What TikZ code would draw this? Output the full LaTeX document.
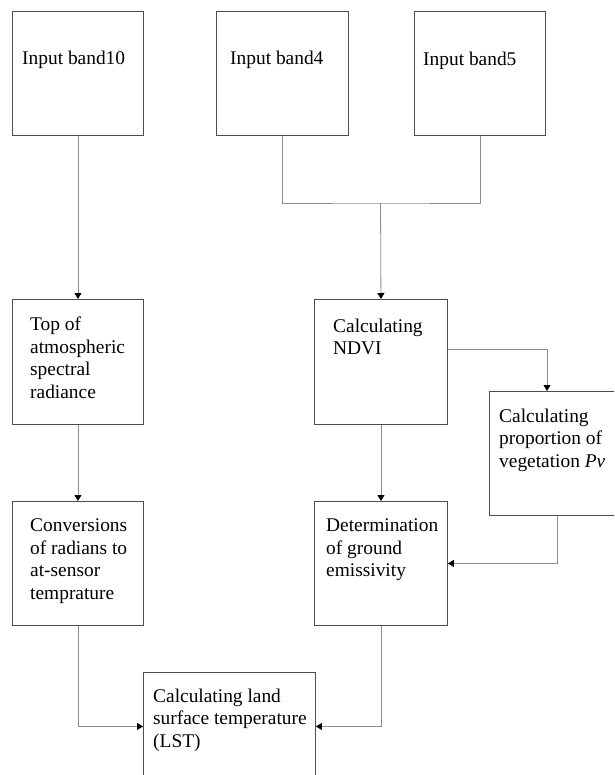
\documentclass[tikz,border=0pt]{standalone}
\usepackage{fontspec}
\setmainfont{Liberation Serif}
\usetikzlibrary{arrows.meta,calc}
\begin{document}
\begin{tikzpicture}[x=1pt,y=-1pt,
  box/.style={draw=black!70,line width=0.9pt,rectangle,anchor=north west,inner sep=0pt},
  txt/.style={anchor=north west,inner sep=0pt,align=left,font=\fontsize{19.4}{22.7}\selectfont},
  conn/.style={draw=black!45,line width=0.8pt},
  arr/.style={conn,-{Triangle[length=6pt,width=7pt,color=black]}}]
\useasboundingbox (0,0) rectangle (614,775);
\clip (0,0) rectangle (614,775);
\fill[white] (0,0) rectangle (614,775);
% boxes
\node[box,minimum width=131pt,minimum height=124pt] (b10) at (12,11) {};
\node[box,minimum width=132pt,minimum height=124pt] (b4) at (216,11) {};
\node[box,minimum width=131pt,minimum height=124pt] (b5) at (414,11) {};
\node[box,minimum width=131pt,minimum height=125pt] (toa) at (12,299) {};
\node[box,minimum width=133pt,minimum height=125pt] (ndvi) at (314,299) {};
\node[box,minimum width=136pt,minimum height=124pt] (pv) at (489,391) {};
\node[box,minimum width=131pt,minimum height=124pt] (conv) at (12,501) {};
\node[box,minimum width=133pt,minimum height=124pt] (det) at (314,501) {};
\node[box,minimum width=172pt,minimum height=108pt] (lst) at (143,672) {};
% texts
\node[txt] (t10) at (22,50.5) {Input band10};
\node[txt] (t4) at (230,50.5) {Input band4};
\node[txt] (t5) at (423,51.5) {Input band5};
\node[txt] (ttoa) at (30,316.5) {Top of\\atmospheric\\spectral\\radiance};
\node[txt] (tndvi) at (333,318.5) {Calculating\\NDVI};
\node[txt] (tpv) at (499,408.5) {Calculating\\proportion of\\vegetation \textit{Pv}};
\node[txt] (tconv) at (30,518.5) {Conversions\\of radians to\\at-sensor\\temprature};
\node[txt] (tdet) at (326,518.5) {Determination\\of ground\\emissivity};
\node[txt] (tlst) at (153,688.5) {Calculating land\\surface temperature\\(LST)};
% connectors
\coordinate (j) at (380.5,203);
\draw[arr] (b10.south) -- (toa.north);
\draw[conn] (b4.south) |- (j) -| (b5.south);
\draw[arr] (j) -- (ndvi.north);
\draw[arr] (toa.south) -- (conv.north);
\draw[arr] (ndvi.south) -- (det.north);
\coordinate (pvin) at ($(pv.north west)+(58,0)$);
\draw[arr] ($(ndvi.north east)+(0,50)$) -| (pvin);
\coordinate (pvout) at ($(pv.south west)+(68,0)$);
\draw[arr] (pvout) |- (det.east);
\draw[arr] (conv.south) |- (lst.west);
\draw[arr] (det.south) |- (lst.east);
\end{tikzpicture}
\end{document}
